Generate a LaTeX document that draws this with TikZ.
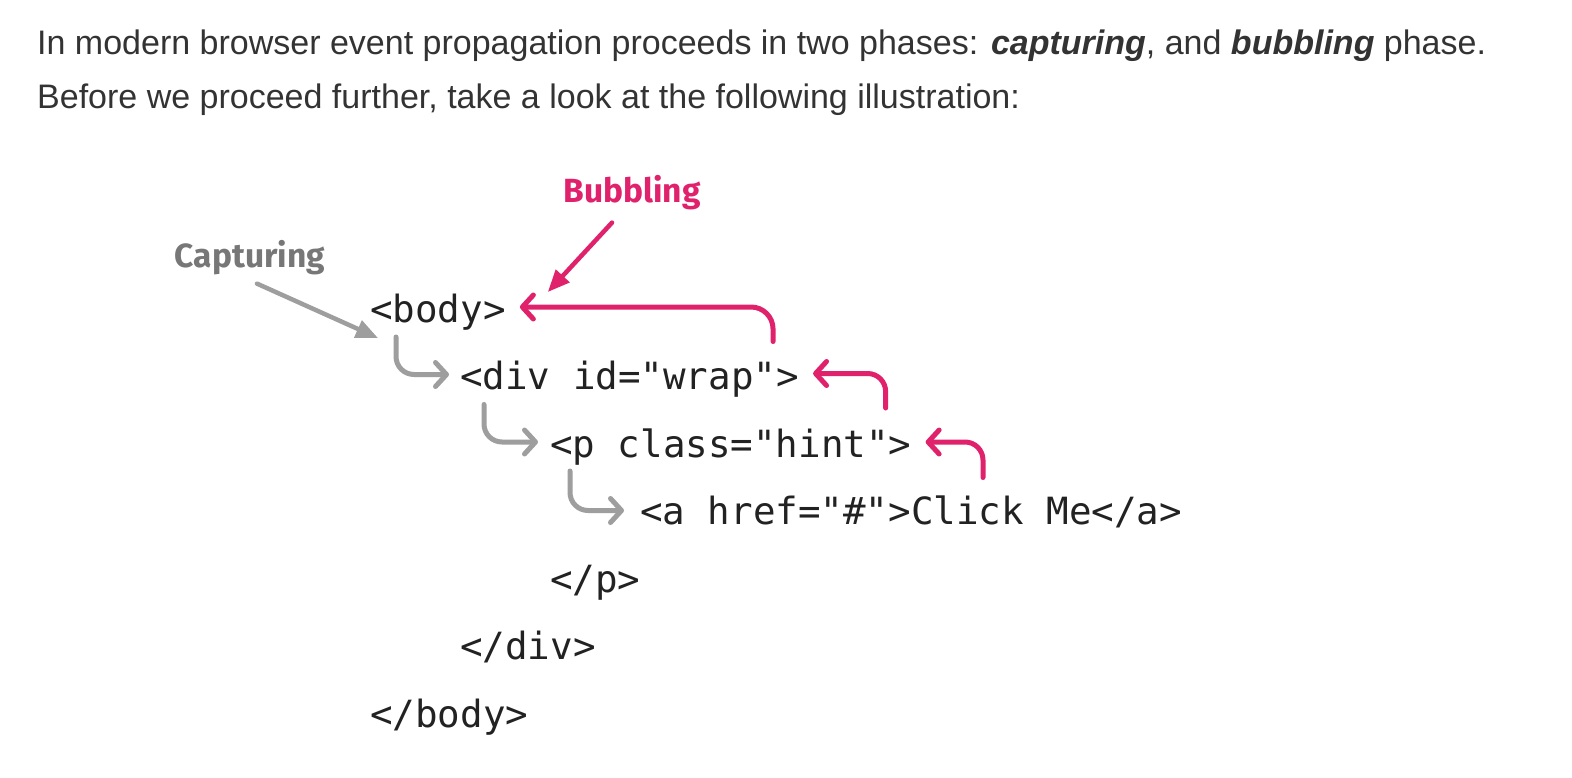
\documentclass[tikz,border=0pt]{standalone}
\usepackage{fontspec}
\setmainfont{Liberation Sans}
\newfontfamily\codefont{DejaVu Sans Mono}
\newfontfamily\tagfont{Fira Sans}
\usetikzlibrary{arrows.meta,calc}
\definecolor{bubblepink}{HTML}{E0226C}
\definecolor{capgray}{HTML}{9E9E9E}
\definecolor{capink}{HTML}{777777}
\definecolor{parink}{HTML}{333333}
\definecolor{codeink}{HTML}{222222}
\tikzset{
	code/.style={font=\codefont\fontsize{37.5}{40}\selectfont, text=codeink, anchor=base west, inner sep=0pt},
	para/.style={font=\fontsize{34}{38}\selectfont, text=parink, anchor=base west, inner sep=0pt},
	phase/.style={font=\tagfont\bfseries\fontsize{33.5}{36}\selectfont, anchor=base, inner sep=0pt},
	capture/.style={draw=capgray, line width=5pt, line cap=round, rounded corners=18pt, -{Straight Barb[length=11pt,width=24pt,round]}},
	bubble/.style={draw=bubblepink, line width=5pt, line cap=round, rounded corners=18pt, -{Straight Barb[length=11pt,width=24pt,round]}},
	pointer/.style={line width=4.5pt, line cap=round, -{Triangle[length=22pt,width=18pt]}}
}
\begin{document}
\begin{tikzpicture}[x=1pt, y=-1pt]
		\useasboundingbox (0,0) rectangle (1572,778);
		\fill[white] (0,0) rectangle (1572,778);
		% intro text
		\node[para] (intro1) at (37,55) {In modern browser event propagation proceeds in two phases: \textbf{\textit{capturing}}, and \textbf{\textit{bubbling}} phase.};
		\node[para] (intro2) at (37,109) {Before we proceed further, take a look at the following illustration:};
		% markup
		\node[code] (body) at (370,322) {<body>};
		\node[code] (wrap) at (460,389.5) {<div id="wrap">};
		\node[code] (hint) at (550,457) {<p class="hint">};
		\node[code] (link) at (640,524.5) {<a href="\#">Click Me</a>};
		\node[code] (pclose) at (550,592) {</p>};
		\node[code] (divclose) at (460,659.5) {</div>};
		\node[code] (bodyclose) at (370,727) {</body>};
		% phase labels
		\node[phase, text=capink] (capturing) at (250,267) {Capturing};
		\node[phase, text=bubblepink] (bubbling) at (632,203) {Bubbling};
		\coordinate (captail) at ($(capturing.south)+(7,9)$);
		\coordinate (bubtail) at ($(bubbling.south)+(-20,12)$);
		\draw[pointer, capgray] (captail) -- ($(body.base west)+(8,16)$);
		\draw[pointer, bubblepink] (bubtail) -- ($(body.base east)+(42,-30)$);
		% capturing
		\draw[capture] ($(body.base west)+(26,15)$) |- ($(wrap.base west)+(-11,-15)$);
		\draw[capture] ($(wrap.base west)+(24,15)$) |- ($(hint.base west)+(-12,-15)$);
		\draw[capture] ($(hint.base west)+(20,14)$) |- ($(link.base west)+(-16,-14)$);
		% bubbling
		\draw[bubble, rounded corners=22pt] ($(wrap.base east)+(-26,-48)$) |- ($(body.base east)+(14,-15)$);
		\draw[bubble] ($(hint.base east)+(-26,-49)$) |- ($(wrap.base east)+(14,-16)$);
		\draw[bubble] ($(link.base west)+(343,-47)$) |- ($(hint.base east)+(14,-15)$);
\end{tikzpicture}
\end{document}
